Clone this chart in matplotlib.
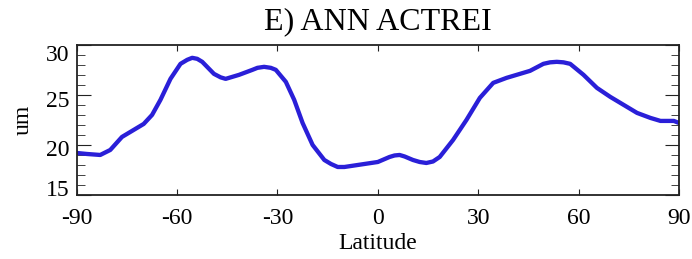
import numpy as np
import matplotlib
matplotlib.use("Agg")
import matplotlib.pyplot as plt
import matplotlib.transforms as mtransforms
from matplotlib.ticker import MultipleLocator

plt.rcParams['font.family'] = ['Liberation Serif', 'DejaVu Serif']
plt.rcParams['axes.unicode_minus'] = False

# zonal mean values
lat = [-90, -87, -83, -80, -76.5, -73.5, -70, -67.5, -65, -62, -59, -57, -55.5, -54,
       -52.5, -49, -47, -45.5, -43.5, -41.5, -37.5, -36, -34, -32, -30.5, -27.5, -25,
       -22.5, -19.5, -16, -14, -12, -10, -8, -4, 0, 3.5, 5, 6.5, 8, 10.5, 12.5, 14.5,
       16.5, 18.5, 22.5, 26.5, 30.5, 34.5, 38.5, 42.5, 45.5, 49.5, 51.5, 53.5, 55.5,
       57.5, 61.5, 65.5, 69.5, 73.5, 77.5, 81.5, 84.5, 88.5, 90]
actrei = [19.2, 19.1, 19.0, 19.5, 20.8, 21.4, 22.1, 23.0, 24.5, 26.6, 28.1, 28.5, 28.7, 28.6,
          28.3, 27.1, 26.75, 26.6, 26.8, 27.0, 27.5, 27.7, 27.8, 27.7, 27.5, 26.3, 24.5,
          22.2, 20.0, 18.5, 18.1, 17.8, 17.8, 17.9, 18.1, 18.3, 18.8, 18.95, 19.0, 18.85, 18.5, 18.3, 18.2,
          18.35, 18.8, 20.5, 22.5, 24.7, 26.2, 26.7, 27.1, 27.4, 28.1, 28.25, 28.3, 28.25,
          28.1, 27.0, 25.7, 24.8, 24.0, 23.2, 22.7, 22.4, 22.4, 22.2]
xticks = [-90, -60, -30, 0, 30, 60, 90]
yticks = [15, 20, 25, 30]

fig = plt.figure(figsize=(6.92, 2.59), dpi=100)
ax = fig.add_axes([0.111, 0.247, 0.870, 0.580])

ax.plot(lat, actrei, color='#2a1fd8', lw=3.1, solid_joinstyle='round')

ax.set_xlim(-90, 90)
ax.set_ylim(15, 30)
ax.set_xticks(xticks)
ax.set_yticks(yticks)
ax.yaxis.set_minor_locator(MultipleLocator(1))
ax.tick_params(axis='both', which='both', direction='in', top=True, right=True,
               labelsize=17, color='#222222')
ax.tick_params(axis='x', which='major', length=4, pad=9)
ax.tick_params(axis='y', which='major', length=10, pad=5)
ax.tick_params(axis='y', which='minor', length=6)
for s in ax.spines.values():
    s.set_linewidth(1.3)
    s.set_color('#222222')

# y labels sit a little off their ticks in the original, ends pulled inside
shifts = {15: 7, 20: -3, 25: -4, 30: -8}
fig.canvas.draw()
for t, lab in zip(ax.get_yticks(), ax.get_yticklabels()):
    dy = shifts.get(int(round(t)), 0)
    lab.set_transform(lab.get_transform() + mtransforms.ScaledTranslation(0, dy / 100, fig.dpi_scale_trans))

ax.set_xlabel('Latitude', fontsize=17, labelpad=3)
ax.set_ylabel('um', fontsize=17, labelpad=9)
ax.set_title('E) ANN ACTREI', fontsize=23, pad=11)

fig.savefig('out.png', dpi=100)
